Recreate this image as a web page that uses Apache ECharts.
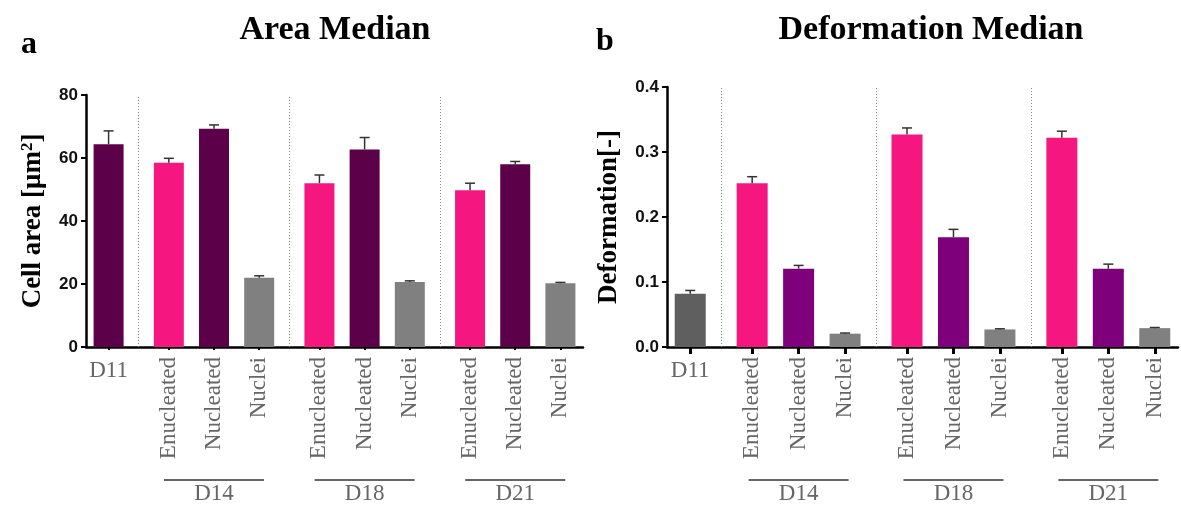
<!DOCTYPE html>
<html>
<head>
<meta charset="utf-8">
<script src="https://cdn.jsdelivr.net/npm/echarts@6/dist/echarts.min.js"></script>
<style>
html,body{margin:0;padding:0;background:#fff;}
#chart{width:1181px;height:507px;}
</style>
</head>
<body>
<div id="chart"></div>
<script>
// ---------------- data ----------------
const baseline = 'D11';
const groups = ['D14', 'D18', 'D21'];
const cellTypes = ['Enucleated', 'Nucleated', 'Nuclei'];
// order: D11, D14(E,N,Nu), D18(E,N,Nu), D21(E,N,Nu)
const areaMedian = [64.4, 58.5, 69.3, 22.0, 52.0, 62.7, 20.6, 49.8, 58.0, 20.2];
const areaErr    = [4.2, 1.4, 1.2, 0.6, 2.6, 3.8, 0.4, 2.2, 0.9, 0.3];
const defMedian  = [0.082, 0.252, 0.1205, 0.0205, 0.327, 0.169, 0.027, 0.322, 0.1205, 0.029];
const defErr     = [0.005, 0.010, 0.005, 0.001, 0.010, 0.012, 0.001, 0.010, 0.007, 0.001];
const areaTicks  = [0, 20, 40, 60, 80];
const defTicks   = [0.0, 0.1, 0.2, 0.3, 0.4];
const titles     = ['Area Median', 'Deformation Median'];
const panelTags  = ['a', 'b'];
const yNames     = ['Cell area [μm{sup|2}]', 'Deformation[-]'];
const areaColors = {baseline: '#5c004a', Enucleated: '#f5177f', Nucleated: '#5c004a', Nuclei: '#808080'};
const defColors  = {baseline: '#5f5f5f', Enucleated: '#f5177f', Nucleated: '#7e007a', Nuclei: '#808080'};

// ---------------- slot layout ----------------
function buildSlots() {
  const s = []; let k = 0;
  const blank = () => s.push({id: 'b' + (k++), kind: 'blank'});
  blank();
  s.push({id: 'bar0', kind: 'bar', label: baseline, type: 'baseline', bar: 0});
  let bi = 1;
  groups.forEach((g, gi) => {
    blank(); s.push({id: 'sep' + gi, kind: 'sep'}); blank();
    cellTypes.forEach((t, ti) => {
      if (ti > 0) { blank(); blank(); }
      s.push({id: 'bar' + bi, kind: 'bar', label: t, type: t, group: g, mid: ti === 1, bar: bi});
      bi++;
    });
  });
  blank();
  return s;
}
const slots = buildSlots();
const ids = slots.map(s => s.id);
const byId = {}; slots.forEach(s => byId[s.id] = s);

const serif = 'Liberation Serif';
const sans = 'Liberation Sans';

const panels = [
  {grid: {left: 86, top: 95, width: 497, height: 252}, vals: areaMedian, errs: areaErr, ticks: areaTicks,
   colors: areaColors, barWidth: 30, tickLen: 3, tickW: 2, nameGap: 38, fmt: v => String(v)},
  {grid: {left: 667, top: 87, width: 511, height: 260}, vals: defMedian, errs: defErr, ticks: defTicks,
   colors: defColors, barWidth: 31, tickLen: 7, tickW: 3, nameGap: 44, fmt: v => v.toFixed(1)}
];

const grid = [], xAxis = [], yAxis = [], series = [];
panels.forEach((p, pi) => {
  grid.push(Object.assign({outerBoundsMode: 'none', containLabel: false}, p.grid));
  const lab = {fontFamily: serif, fontSize: 23, color: '#666'};
  xAxis.push({
    gridIndex: pi, type: 'category', data: ids, position: 'bottom',
    axisLine: {lineStyle: {color: '#000', width: 2.5}},
    axisTick: {show: true, alignWithLabel: true, length: p.tickLen,
      interval: (i) => slots[i].kind === 'bar', lineStyle: {color: '#000', width: p.tickW}},
    axisLabel: Object.assign({rotate: 90, margin: 10,
      interval: (i) => slots[i].kind === 'bar' && slots[i].type !== 'baseline',
      formatter: (v) => byId[v].label || ''}, lab),
    splitLine: {show: false}
  });
  xAxis.push({
    gridIndex: pi, type: 'category', data: ids, position: 'bottom',
    axisLine: {show: false}, axisTick: {show: false},
    axisLabel: Object.assign({margin: 12,
      interval: (i) => slots[i].type === 'baseline',
      formatter: (v) => byId[v].label || ''}, lab),
    splitLine: {show: false}
  });
  xAxis.push({
    gridIndex: pi, type: 'category', data: ids, position: 'bottom',
    axisLine: {show: false}, axisTick: {show: false},
    axisLabel: {margin: 131, interval: (i) => !!slots[i].mid,
      formatter: (v) => '{l| }\n{t|' + byId[v].group + '}',
      rich: {
        l: {width: 100, height: 2, lineHeight: 4, fontSize: 1, backgroundColor: '#666'},
        t: Object.assign({lineHeight: 24}, lab)
      }},
    splitLine: {show: false}
  });
  yAxis.push({
    gridIndex: pi, type: 'value',
    min: p.ticks[0], max: p.ticks[p.ticks.length - 1], interval: p.ticks[1] - p.ticks[0],
    name: yNames[pi], nameLocation: 'middle', nameRotate: 90, nameGap: p.nameGap,
    nameTextStyle: {fontFamily: serif, fontWeight: 'bold', fontSize: 27, color: '#000',
      rich: {sup: {fontFamily: serif, fontWeight: 'bold', fontSize: 17, color: '#000', verticalAlign: 'top', padding: [0, 0, 12, 0]}}},
    axisLine: {show: true, lineStyle: {color: '#000', width: 2.5}},
    axisTick: {show: true, length: 5, lineStyle: {color: '#000', width: 2}},
    axisLabel: {fontFamily: sans, fontWeight: 'bold', fontSize: 17, color: '#111', margin: 8, formatter: p.fmt},
    splitLine: {show: false}
  });
  series.push({
    type: 'bar', xAxisIndex: pi * 3, yAxisIndex: pi, barWidth: p.barWidth,
    data: slots.map(s => s.kind === 'bar'
      ? {value: p.vals[s.bar], itemStyle: {color: p.colors[s.type]}} : '-'),
    markLine: {
      silent: true, symbol: 'none', label: {show: false},
      lineStyle: {color: '#888', type: [1, 2], width: 1},
      data: slots.filter(s => s.kind === 'sep').map(s => ({xAxis: s.id}))
    },
    animation: false
  });
  series.push({
    type: 'custom', xAxisIndex: pi * 3, yAxisIndex: pi, z: 5,
    encode: {x: 0, y: 1},
    data: slots.map((s, i) => s.kind === 'bar' ? [i, p.vals[s.bar], p.errs[s.bar]] : null).filter(d => d),
    renderItem: (params, api) => {
      const x = api.value(0), v = api.value(1), e = api.value(2);
      const p0 = api.coord([x, v]), p1 = api.coord([x, v + e]);
      const st = {stroke: '#333', lineWidth: 1.5};
      return {type: 'group', children: [
        {type: 'line', shape: {x1: p0[0], y1: p0[1], x2: p1[0], y2: p1[1]}, style: st},
        {type: 'line', shape: {x1: p1[0] - 5, y1: p1[1], x2: p1[0] + 5, y2: p1[1]}, style: st}
      ]};
    },
    animation: false
  });
});

const chart = echarts.init(document.getElementById('chart'));
chart.setOption({
  animation: false,
  backgroundColor: '#fff',
  grid, xAxis, yAxis, series,
  graphic: [
    {type: 'text', x: 335, y: 30, style: {text: titles[0], textAlign: 'center', textVerticalAlign: 'middle',
      font: 'bold 34px "Liberation Serif"', fill: '#000'}},
    {type: 'text', x: 931, y: 30, style: {text: titles[1], textAlign: 'center', textVerticalAlign: 'middle',
      font: 'bold 34px "Liberation Serif"', fill: '#000'}},
    {type: 'text', x: 21, y: 45, style: {text: panelTags[0], textAlign: 'left', textVerticalAlign: 'middle',
      font: 'bold 32px "Liberation Serif"', fill: '#000'}},
    {type: 'text', x: 596, y: 42, style: {text: panelTags[1], textAlign: 'left', textVerticalAlign: 'middle',
      font: 'bold 32px "Liberation Serif"', fill: '#000'}}
  ]
});
</script>
</body>
</html>
